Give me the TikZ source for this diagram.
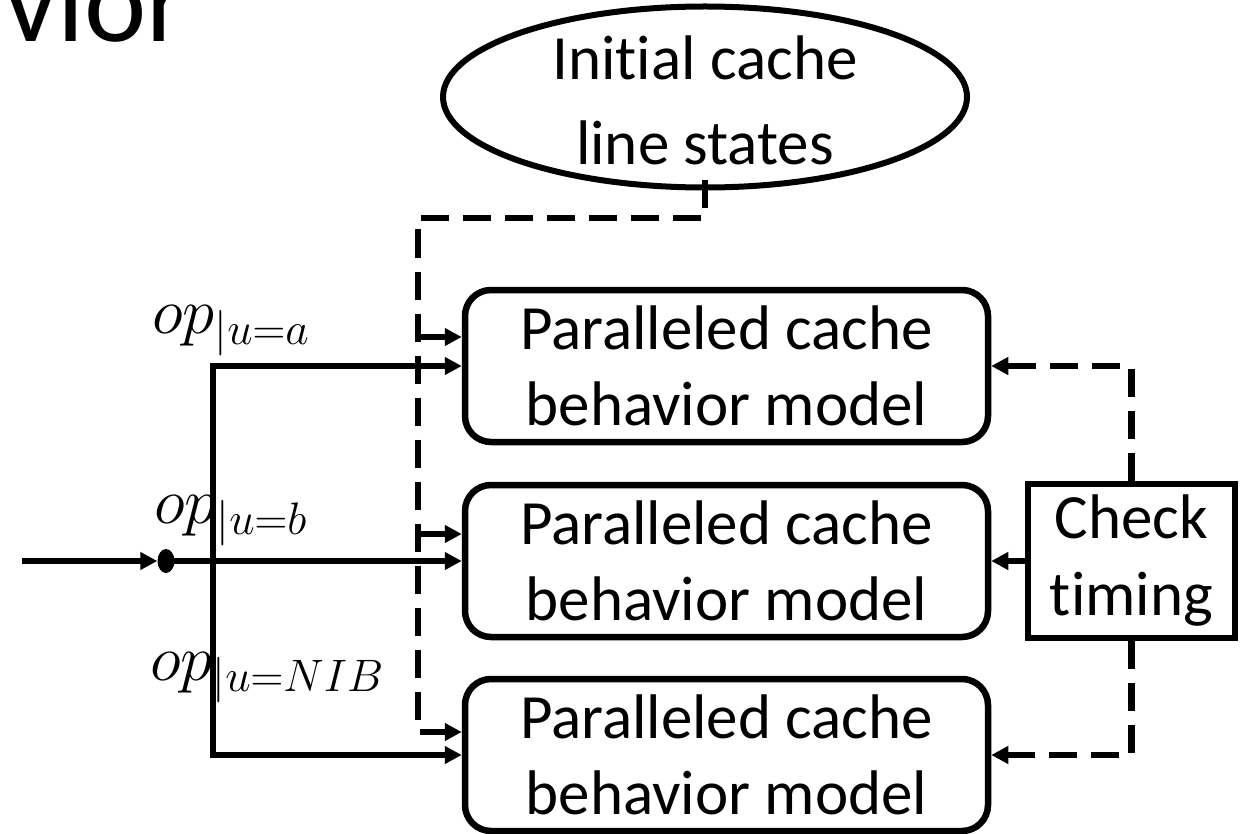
\RequirePackage{fix-cm}
\documentclass[tikz,border=0pt]{standalone}
\usepackage[no-math]{fontspec}
\setmainfont{Carlito}[Ligatures=NoCommon]
\usetikzlibrary{arrows.meta,shapes.geometric}

\tikzset{
  tip/.tip={Triangle[length=17pt,width=17pt]},
  model/.style={draw, line width=6.5pt, rounded corners=26pt,
    minimum width=523pt, minimum height=152pt, inner sep=0pt,
    align=center, font=\fontsize{63}{76}\selectfont},
  checkbox/.style={draw, line width=6.5pt, minimum width=207pt,
    minimum height=154pt, inner sep=0pt, align=center,
    font=\fontsize{63}{77}\selectfont},
  statecloud/.style={draw, ellipse, line width=6pt, minimum width=524pt,
    minimum height=181pt, inner sep=0pt},
  cloudtext/.style={inner sep=0pt, align=center,
    font=\fontsize{63}{85}\selectfont},
  flow/.style={line width=6.5pt, -tip},
  ctrl/.style={flow, dash pattern=on 28pt off 14pt},
  oplabel/.style={anchor=base west, inner sep=0pt,
    font=\fontsize{65}{78}\selectfont},
  junction/.style={ellipse, fill=black, draw=none, inner sep=0pt,
    minimum width=17pt, minimum height=24pt},
}

\begin{document}
\begin{tikzpicture}[x=1pt,y=-1pt]
\useasboundingbox (0,0) rectangle (1246,834);

% heading fragment
\node[anchor=base west, inner sep=0pt, font=\fontsize{118}{136}\selectfont]
  (heading) at (4,42) {vior};

% initial state source
\node[statecloud] (init) at (705,97) {};
\node[cloudtext] (inittext) at (705,100) {Initial cache\\line states};

% behaviour models and timing check
\node[model] (box1) at (726.5,366) {Paralleled cache\\behavior model};
\node[model] (box2) at (726.5,561) {Paralleled cache\\behavior model};
\node[model] (box3) at (726.5,755) {Paralleled cache\\behavior model};
\node[checkbox] (check) at (1131.5,561) {Check\\timing};

% operation input and fan-out
\coordinate (src) at (22,561);
\node[junction] (dot) at (166,561) {};
\coordinate (trunkbot) at (213,755);
\draw[flow] (src) -- (dot.west);
\draw[flow] (dot.center) -- (box2.west);
\draw[line width=6.5pt, tip-tip] (box1.west) -| (trunkbot) -- (box3.west);

\node[oplabel] (opa) at (152,333) {$op_{|u=a}$};
\node[oplabel] (opb) at (154,523) {$op_{|u=b}$};
\node[oplabel] (opn) at (150,680) {$op_{|u=NIB}$};

% initial states distributed to every model
\coordinate (tap) at ([yshift=10pt]init.south);
\coordinate (bend) at (418,218);
\coordinate (b1) at (418,337);
\coordinate (b2) at (418,534);
\coordinate (b3) at (418,732);
\draw[ctrl] (tap) |- (bend) -- (b3) -- (box3.west |- b3);
\draw[ctrl] (b1) -- (box1.west |- b1);
\draw[ctrl] (b2) -- (box2.west |- b2);

% timing feedback
\draw[ctrl] (check.north) |- (box1.east);
\draw[ctrl] (check.south) |- (box3.east);
\draw[flow] (check.west) -- (box2.east);
\end{tikzpicture}
\end{document}
